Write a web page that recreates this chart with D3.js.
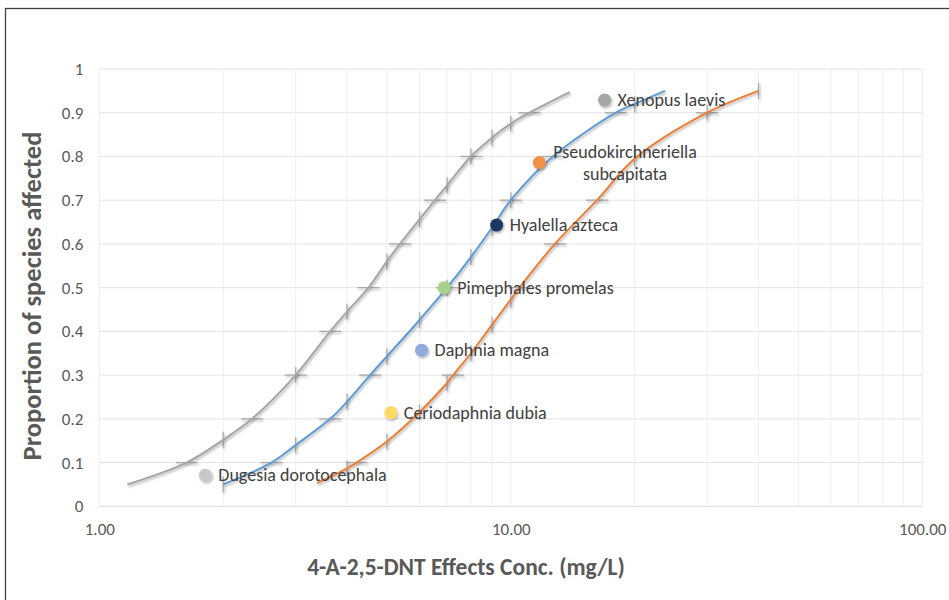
<!DOCTYPE html>
<html>
<head>
<meta charset="utf-8">
<script src="https://cdn.jsdelivr.net/npm/d3@7"></script>
<style>
  html, body { margin: 0; padding: 0; background: #fff; }
  svg { display: block; font-family: Carlito, Calibri, Lato, "Open Sans", sans-serif; }
</style>
</head>
<body>
<svg id="chart" width="949" height="600"></svg>
<script>
// ---------------- DATA ----------------
// Fitted SSD curves: concentration (mg/L) and proportion of species affected
const grayCurveConc = [1.17, 1.63, 2, 2.35, 3, 3.64, 4, 4.51, 5, 5.38, 6, 6.54, 7, 8, 9, 10, 11.1, 13.9];
const grayCurveProp = [0.05, 0.1, 0.152, 0.2, 0.3, 0.4, 0.445, 0.5, 0.56, 0.6, 0.656, 0.7, 0.734, 0.8, 0.843, 0.875, 0.9, 0.947];

const blueCurveConc = [2, 2.62, 3, 3.64, 4, 4.55, 5, 5.8, 6, 7, 8, 9, 10, 12.66, 18, 20, 23.7];
const blueCurveProp = [0.05, 0.1, 0.14, 0.2, 0.239, 0.3, 0.343, 0.41, 0.426, 0.5, 0.57, 0.637, 0.7, 0.8, 0.9, 0.92, 0.95];

const orangeCurveConc = [3.38, 4, 4.22, 5, 5.85, 6, 7, 7.24, 8, 9, 10, 10.5, 12.8, 16.2, 20, 30, 40];
const orangeCurveProp = [0.053, 0.087, 0.1, 0.148, 0.205, 0.215, 0.282, 0.3, 0.35, 0.415, 0.473, 0.5, 0.6, 0.7, 0.795, 0.9, 0.95];

// Species effect concentrations
const species = ["Dugesia dorotocephala", "Ceriodaphnia dubia", "Daphnia magna", "Pimephales promelas",
                 "Hyalella azteca", "Pseudokirchneriella subcapitata", "Xenopus laevis"];
const speciesConc = [1.81, 5.11, 6.07, 6.89, 9.24, 11.73, 16.9];
const speciesProp = [0.071, 0.214, 0.357, 0.5, 0.643, 0.786, 0.929];
const speciesColors = ["#c8c8c8", "#ffd966", "#8faadc", "#a9d18e", "#1f3864", "#f4914a", "#a5a5a5"];

// Axis tick labels
const yTickValues = [0, 0.1, 0.2, 0.3, 0.4, 0.5, 0.6, 0.7, 0.8, 0.9, 1];
const yTickLabels = ["0", "0.1", "0.2", "0.3", "0.4", "0.5", "0.6", "0.7", "0.8", "0.9", "1"];
const xTickValues = [1, 10, 100];
const xTickLabels = ["1.00", "10.00", "100.00"];

const xTitle = "4-A-2,5-DNT Effects Conc. (mg/L)";
const yTitle = "Proportion of species affected";

// ---------------- DRAW ----------------
const svg = d3.select("#chart");
const W = 949, H = 600;
const plot = { left: 99.3, right: 922.3, top: 69, bottom: 506.3 };
const FONT = "Carlito, Calibri, Lato, sans-serif";

const x = d3.scaleLog().domain([1, 100]).range([plot.left, plot.right]);
const y = d3.scaleLinear().domain([0, 1]).range([plot.bottom, plot.top]);

const defs = svg.append("defs");
const f = defs.append("filter").attr("id", "shadow").attr("filterUnits", "userSpaceOnUse")
  .attr("x", 0).attr("y", 0).attr("width", W).attr("height", H);
f.append("feDropShadow").attr("dx", 1.2).attr("dy", 1.6).attr("stdDeviation", 1.2)
  .attr("flood-color", "#000").attr("flood-opacity", 0.3);

// outer frame
svg.append("rect").attr("x", 5.5).attr("y", 8.5).attr("width", W + 10).attr("height", H + 10)
  .attr("fill", "#fff").attr("stroke", "#404040").attr("stroke-width", 1.3);

// vertical gridlines (log)
const vTicks = x.ticks();
svg.append("g").selectAll("line").data(vTicks).join("line")
  .attr("x1", d => x(d)).attr("x2", d => x(d))
  .attr("y1", plot.top).attr("y2", plot.bottom)
  .attr("stroke", "#efefef").attr("stroke-width", 1);

// horizontal gridlines
svg.append("g").selectAll("line").data(yTickValues).join("line")
  .attr("x1", plot.left).attr("x2", plot.right)
  .attr("y1", d => y(d)).attr("y2", d => y(d))
  .attr("stroke", d => d === 0 ? "#d9d9d9" : "#e4e4e4").attr("stroke-width", 1);

// axes labels
const yAxis = d3.axisLeft(y).tickValues(yTickValues)
  .tickFormat((d, i) => yTickLabels[i]).tickSize(0).tickPadding(16);
const gy = svg.append("g").attr("transform", `translate(${plot.left},0)`).call(yAxis);
gy.select(".domain").remove();
gy.selectAll("text").attr("fill", "#595959").style("font-size", "17px").style("font-family", FONT);

const xAxis = d3.axisBottom(x).tickValues(xTickValues)
  .tickFormat((d, i) => xTickLabels[i]).tickSize(0).tickPadding(17);
const gx = svg.append("g").attr("transform", `translate(0,${plot.bottom})`).call(xAxis);
gx.select(".domain").remove();
gx.selectAll("text").attr("fill", "#595959").style("font-size", "17px").style("font-family", FONT);

// titles
svg.append("text").attr("x", 466).attr("y", 575).attr("text-anchor", "middle")
  .attr("fill", "#595959").attr("font-weight", "bold").style("font-size", "23.5px").text(xTitle);
svg.append("text").attr("transform", "translate(41,296) rotate(-90)").attr("text-anchor", "middle")
  .attr("fill", "#595959").attr("font-weight", "bold").style("font-size", "26.5px").text(yTitle);

// curves
const curves = [
  { conc: grayCurveConc, prop: grayCurveProp, color: "#a5a5a5" },
  { conc: blueCurveConc, prop: blueCurveProp, color: "#5b9bd5" },
  { conc: orangeCurveConc, prop: orangeCurveProp, color: "#ed7d31" }
];
const isRound = v => Math.abs(v * 10 - Math.round(v * 10)) < 1e-9;
const isGridConc = v => vTicks.some(t => Math.abs(t - v) < 1e-9);

const line = d3.line().x(d => x(d[0])).y(d => y(d[1])).curve(d3.curveCatmullRom.alpha(0.5));

curves.forEach(c => {
  const pts = c.conc.map((v, i) => [v, c.prop[i]]);
  const g = svg.append("g");
  // gray crosshair marks where the curve meets the gridlines
  g.selectAll("line.h").data(pts.filter(p => isRound(p[1]))).join("line").attr("class", "h")
    .attr("x1", d => x(d[0]) - 11).attr("x2", d => x(d[0]) + 11)
    .attr("y1", d => y(d[1])).attr("y2", d => y(d[1]))
    .attr("stroke", "#ababab").attr("stroke-width", 1.3).attr("filter", "url(#shadow)");
  g.selectAll("line.v").data(pts.filter(p => isGridConc(p[0]))).join("line").attr("class", "v")
    .attr("x1", d => x(d[0])).attr("x2", d => x(d[0]))
    .attr("y1", d => y(d[1]) - 8).attr("y2", d => y(d[1]) + 8)
    .attr("stroke", "#ababab").attr("stroke-width", 1.3).attr("filter", "url(#shadow)");
  g.append("path").datum(pts).attr("d", line)
    .attr("fill", "none").attr("stroke", c.color).attr("stroke-width", 2)
    .attr("filter", "url(#shadow)");
});

// species points
const sp = species.map((n, i) => ({ name: n, c: speciesConc[i], p: speciesProp[i], color: speciesColors[i] }));
svg.append("g").selectAll("circle").data(sp).join("circle")
  .attr("cx", d => x(d.c)).attr("cy", d => y(d.p)).attr("r", 6.5)
  .attr("fill", d => d.color).attr("filter", "url(#shadow)");

// labels
const lg = svg.append("g").attr("fill", "#404040").style("font-size", "18px").style("font-family", FONT);
sp.forEach(d => {
  const px = x(d.c), py = y(d.p);
  const words = d.name.split(" ");
  if (d.name.length > 25) {
    const t1 = lg.append("text").attr("x", px + 14).attr("y", py - 5).text(words[0]);
    const w = t1.node().getComputedTextLength();
    lg.append("text").attr("x", px + 14 + w / 2).attr("y", py + 17).attr("text-anchor", "middle").text(words[1]);
  } else {
    lg.append("text").attr("x", px + 13).attr("y", py + 6).text(d.name);
  }
});
</script>
</body>
</html>
